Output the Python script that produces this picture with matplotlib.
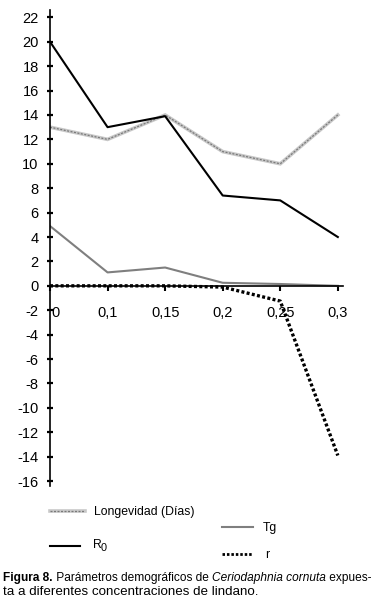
import matplotlib
matplotlib.use("Agg")
from matplotlib import pyplot as plt
from matplotlib.lines import Line2D
from matplotlib.transforms import ScaledTranslation

plt.rcParams['font.family'] = ['Liberation Sans', 'DejaVu Sans']

# concentraciones de lindano
concentraciones = ["0", "0,1", "0,15", "0,2", "0,25", "0,3"]
longevidad = [13, 12, 14, 11, 10, 14]
r0 = [20, 13, 13.9, 7.4, 7.0, 4.0]
tg = [4.9, 1.1, 1.5, 0.25, 0.15, 0.0]
r = [0.0, 0.0, 0.0, -0.1, -1.25, -13.9]
y_ticks = list(range(-16, 23, 2))

W, H = 379, 613
fig = plt.figure(figsize=(W / 100, H / 100), dpi=100)
ax = fig.add_axes([50 / W, 1 - 486 / H, 293 / W, 476 / H])

x = list(range(len(concentraciones)))

# longevidad: linea gris "ondulada"
ax.plot(x, longevidad, color="#c8c8c8", lw=2.6, solid_joinstyle="miter")
ax.plot(x, longevidad, color="#7a7a7a", lw=0.9, dashes=(1.6, 1.2))
ax.plot(x, r0, color="black", lw=1.5)
ax.plot(x, tg, color="#7f7f7f", lw=1.5)
ax.plot(x, r, color="black", lw=2.4, dashes=(0.9, 0.7))

ax.set_xlim(0, 5.09)
ax.set_ylim(-16.4, 22.6)

for s in ["top", "right"]:
    ax.spines[s].set_visible(False)
ax.spines["bottom"].set_position(("data", 0))
ax.spines["left"].set_position(("data", 0))
ax.spines["left"].set_linewidth(1.2)
ax.spines["bottom"].set_linewidth(1.2)

ax.set_yticks(y_ticks)
ax.set_yticklabels([str(v) for v in y_ticks])
ax.set_xticks(x)
ax.set_xticklabels(concentraciones)
ax.tick_params(axis="y", direction="inout", length=4.3, width=1.6, labelsize=10.5, pad=6)
ax.tick_params(axis="x", direction="out", length=3.6, width=1.5, labelsize=10.5, pad=11)
lab0 = ax.get_xticklabels()[0]
lab0.set_transform(lab0.get_transform() + ScaledTranslation(5 / 100, 0, fig.dpi_scale_trans))

# leyenda manual
def leyenda(x0, x1, y0, estilos):
    for est in estilos:
        fig.add_artist(Line2D([x0 / W, x1 / W], [1 - y0 / H, 1 - y0 / H],
                              transform=fig.transFigure, **est))

leyenda(50, 85, 511, [dict(color="#c8c8c8", lw=2.6), dict(color="#7a7a7a", lw=0.9, dashes=(1.6, 1.2))])
fig.text(94 / W, 1 - 512 / H, "Longevidad (Días)", fontsize=8.8, va="center")
leyenda(222, 253, 527, [dict(color="#7f7f7f", lw=1.5)])
fig.text(263 / W, 1 - 528 / H, "Tg", fontsize=8.8, va="center")
leyenda(50, 80, 546, [dict(color="black", lw=1.5)])
fig.text(93 / W, 1 - 545 / H, "R", fontsize=8.8, va="center")
fig.text(101 / W, 1 - 548 / H, "0", fontsize=7.8, va="center")
leyenda(222, 253, 554, [dict(color="black", lw=2.0, dashes=(0.9, 0.7))])
fig.text(265 / W, 1 - 555 / H, "r", fontsize=8.8, va="center")

# pie de figura: se ajusta la primera linea al ancho disponible
renderer = fig.canvas.get_renderer()
partes = [("Figura 8.", "bold", "normal"), (" Parámetros demográficos de ", "normal", "normal"),
          ("Ceriodaphnia cornuta", "normal", "italic"), (" expues-", "normal", "normal")]

def ancho(fs):
    total = 0
    for txt, wgt, sty in partes:
        t = fig.text(0, 0, txt, fontsize=fs, fontweight=wgt, fontstyle=sty)
        total += t.get_window_extent(renderer).width
        t.remove()
    return total

fs = 9.0
fs = fs * 370 / ancho(fs)
xpos = 3
for txt, wgt, sty in partes:
    t = fig.text(xpos / W, 1 - 578 / H, txt, fontsize=fs, fontweight=wgt, fontstyle=sty, va="center")
    xpos += t.get_window_extent(renderer).width
fig.text(3 / W, 1 - 592 / H, "ta a diferentes concentraciones de lindano.", fontsize=9.6, va="center")

fig.savefig("out.png", dpi=100)
